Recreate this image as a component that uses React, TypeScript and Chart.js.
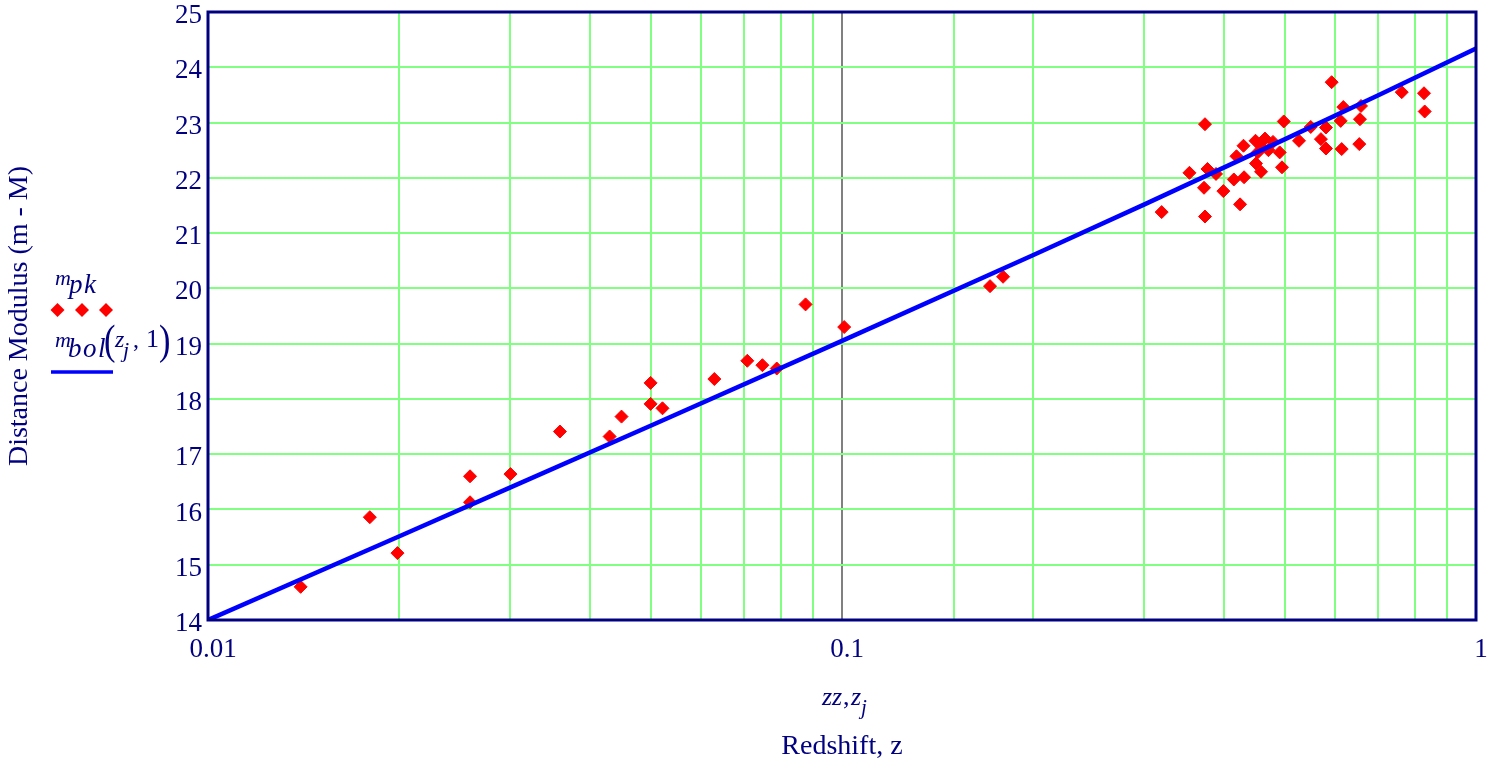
import React, { useEffect, useRef } from 'react';
import { Chart, registerables } from 'chart.js';

Chart.register(...registerables);

// Supernova data (redshift z, distance modulus m - M)
const snRedshift = [
  0.0140, 0.0180, 0.0199, 0.0259, 0.0259, 0.0300, 0.0359, 0.0430, 0.0449, 0.0499,
  0.0499, 0.0521, 0.0629, 0.0709, 0.0749, 0.0789, 0.0876, 0.1008, 0.1712, 0.1795,
  0.3193, 0.3737, 0.3737, 0.3532, 0.3771, 0.3890, 0.3724, 0.3995, 0.4245, 0.4150,
  0.4307, 0.4190, 0.4298, 0.4490, 0.4647, 0.4784, 0.4526, 0.4592, 0.4706, 0.4902,
  0.4498, 0.4581, 0.4943, 0.4975, 0.5258, 0.5487, 0.5694, 0.5799, 0.5799, 0.6140,
  0.6118, 0.6176, 0.5920, 0.6545, 0.6561, 0.6586, 0.7636, 0.8279, 0.8300,
];
const snModulus = [
  14.60, 15.86, 15.21, 16.60, 16.13, 16.64, 17.41, 17.32, 17.68, 18.29,
  17.91, 17.83, 18.36, 18.69, 18.61, 18.55, 19.71, 19.30, 20.04, 20.21,
  21.38, 21.30, 22.97, 22.09, 22.16, 22.07, 21.82, 21.76, 21.52, 21.97,
  22.01, 22.39, 22.58, 22.67, 22.71, 22.65, 22.46, 22.56, 22.50, 22.46,
  22.26, 22.11, 22.19, 23.02, 22.67, 22.92, 22.70, 22.53, 22.91, 22.52,
  23.03, 23.28, 23.73, 22.61, 23.06, 23.30, 23.55, 23.53, 23.20,
];

// Model curve m_bol(z, 1)
const modelRedshift = [0.01, 0.02, 0.03, 0.05, 0.1, 0.2, 0.3, 0.5, 0.7, 1.0];
const modelModulus = [14.0, 15.51, 16.40, 17.52, 19.05, 20.60, 21.52, 22.70, 23.49, 24.34];

const xLabelTicks = [0.01, 0.1, 1];
const xTickLabels = ['0.01', '0.1', '1'];
const yMin = 14;
const yMax = 25;

const xAxisTitle = 'Redshift, z';
const yAxisTitle = 'Distance Modulus (m - M)';

const NAVY = '#000080';
const GRID = '#80ff80';
const SERIF = '"Liberation Serif", "Times New Roman", serif';

const it = (s: number) => `italic ${s}px ${SERIF}`;
const rg = (s: number) => `${s}px ${SERIF}`;

function put(ctx: CanvasRenderingContext2D, text: string, font: string, x: number, y: number) {
  ctx.font = font;
  ctx.fillText(text, x, y);
}

function paren(ctx: CanvasRenderingContext2D, text: string, x: number, y: number) {
  ctx.save();
  ctx.translate(x, y);
  ctx.scale(0.8, 1);
  ctx.font = rg(43);
  ctx.fillText(text, 0, 0);
  ctx.restore();
}

const overlay = {
  id: 'overlay',
  afterDraw(chart: any) {
    const { ctx, chartArea: a } = chart;
    ctx.save();
    // frame
    ctx.strokeStyle = NAVY;
    ctx.lineWidth = 3;
    ctx.strokeRect(a.left, a.top, a.right - a.left, a.bottom - a.top);

    ctx.fillStyle = NAVY;
    ctx.textBaseline = 'alphabetic';
    ctx.textAlign = 'left';

    // axis expression zz, z_j
    put(ctx, 'zz', it(26), 822, 705);
    put(ctx, ',', rg(26), 843, 705);
    put(ctx, 'z', it(26), 851, 705);
    put(ctx, 'j', it(21), 861, 714);

    // legend: m_pk
    put(ctx, 'm', it(22), 55, 285);
    put(ctx, 'p', it(27), 69, 293);
    put(ctx, 'k', it(27), 84, 293);
    ctx.fillStyle = '#ff0000';
    for (const cx of [57.5, 82, 106]) {
      const r = 7, cy = 310;
      ctx.beginPath();
      ctx.moveTo(cx, cy - r);
      ctx.lineTo(cx + r, cy);
      ctx.lineTo(cx, cy + r);
      ctx.lineTo(cx - r, cy);
      ctx.closePath();
      ctx.fill();
    }
    ctx.fillStyle = NAVY;
    // legend: m_bol(z_j, 1)
    put(ctx, 'm', it(22), 55, 347);
    put(ctx, 'b', it(27), 68, 357);
    put(ctx, 'o', it(27), 83, 357);
    put(ctx, 'l', it(27), 98, 357);
    paren(ctx, '(', 104, 354);
    put(ctx, 'z', it(24), 115, 347);
    put(ctx, 'j', it(22), 123, 357);
    put(ctx, ',', rg(24), 133, 347);
    put(ctx, '1', rg(26), 146, 347);
    paren(ctx, ')', 159, 354);
    ctx.strokeStyle = '#0000ff';
    ctx.lineWidth = 3.5;
    ctx.beginPath();
    ctx.moveTo(51, 372);
    ctx.lineTo(113, 372);
    ctx.stroke();
    ctx.restore();
  },
};

export default function App() {
  const ref = useRef<HTMLCanvasElement | null>(null);

  useEffect(() => {
    if (!ref.current) return;
    const points = snRedshift.map((z, i) => ({ x: z, y: snModulus[i] }));
    const model = modelRedshift.map((z, i) => ({ x: z, y: modelModulus[i] }));
    const chart = new Chart(ref.current, {
      type: 'scatter',
      data: {
        datasets: [
          {
            label: 'm_bol(z_j, 1)',
            data: model,
            showLine: true,
            borderColor: '#0000ff',
            backgroundColor: '#0000ff',
            borderWidth: 4.5,
            pointRadius: 0,
            tension: 0,
            order: 0,
          },
          {
            label: 'm_pk',
            data: points,
            pointStyle: 'rectRot',
            pointRadius: 6.5,
            borderWidth: 1,
            borderColor: '#ff0000',
            backgroundColor: '#ff0000',
            order: 1,
          },
        ],
      },
      options: {
        responsive: false,
        animation: false,
        layout: { padding: { left: 0, top: 12, right: 25, bottom: 0 } },
        plugins: { legend: { display: false }, tooltip: { enabled: false } },
        scales: {
          x: {
            type: 'logarithmic',
            position: 'bottom',
            min: 0.01,
            max: 1,
            border: { display: false },
            grid: {
              drawTicks: false,
              lineWidth: 2,
              color: (c: any) => (c.tick && Math.abs(c.tick.value - 0.1) < 1e-9 ? '#808080' : GRID),
            },
            ticks: {
              autoSkip: false,
              maxRotation: 0,
              padding: 14,
              labelOffset: 5,
              color: NAVY,
              font: { family: SERIF, size: 27 },
              callback: (v: any) => {
                const idx = xLabelTicks.findIndex((t) => Math.abs(t - Number(v)) < 1e-9);
                return idx >= 0 ? xTickLabels[idx] : '';
              },
            },
            title: {
              display: true,
              text: xAxisTitle,
              color: NAVY,
              font: { family: SERIF, size: 28 },
              padding: { top: 0, bottom: 0 },
            },
            afterFit: (s: any) => {
              s.height = 143;
              s.paddingLeft = 0;
              s.paddingRight = 0;
            },
          },
          y: {
            type: 'linear',
            min: yMin,
            max: yMax,
            border: { display: false },
            grid: { drawTicks: false, lineWidth: 2, color: GRID },
            ticks: {
              stepSize: 1,
              padding: 6,
              labelOffset: 4,
              color: NAVY,
              font: { family: SERIF, size: 27 },
            },
            title: {
              display: true,
              text: yAxisTitle,
              color: NAVY,
              font: { family: SERIF, size: 28 },
              padding: { top: 3, bottom: 0 },
            },
            afterFit: (s: any) => {
              s.width = 208;
              s.paddingTop = 0;
              s.paddingBottom = 0;
            },
          },
        },
      },
      plugins: [overlay],
    });
    return () => chart.destroy();
  }, []);

  return (
    <div style={{ position: 'fixed', left: 0, top: 0, width: 1501, height: 763, background: '#fff' }}>
      <canvas ref={ref} width={1501} height={763} style={{ width: 1501, height: 763, display: 'block' }} />
    </div>
  );
}
